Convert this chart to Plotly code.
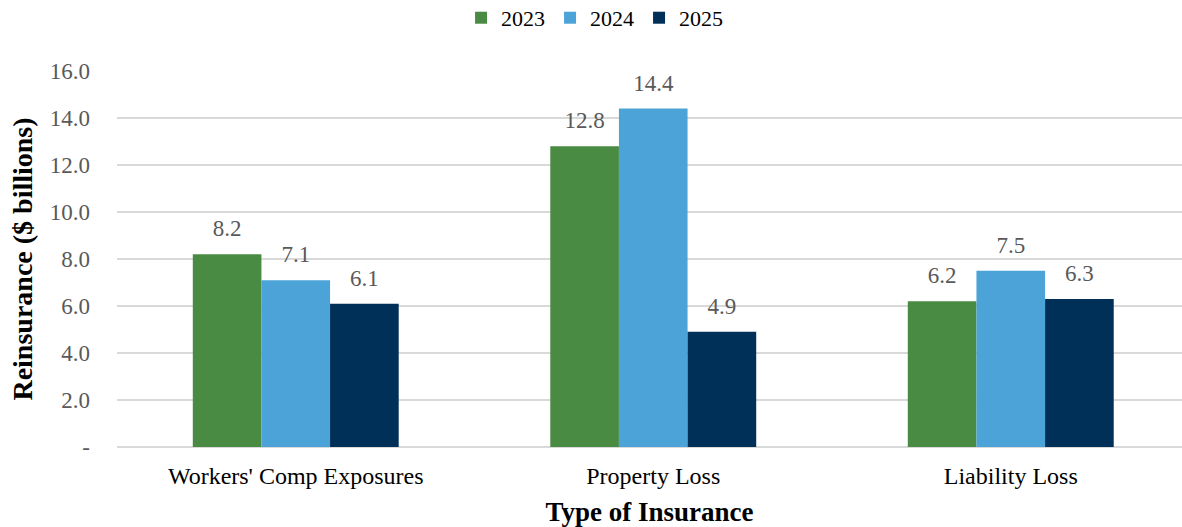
import plotly.graph_objects as go

categories = ["Workers' Comp Exposures", "Property Loss", "Liability Loss"]
years = ["2023", "2024", "2025"]
values_2023 = [8.2, 12.8, 6.2]
values_2024 = [7.1, 14.4, 7.5]
values_2025 = [6.1, 4.9, 6.3]
colors = ["#4a8b43", "#4ca3d7", "#003057"]

y_ticks = [0, 2, 4, 6, 8, 10, 12, 14, 16]
y_tick_text = ["-"] + [f"{v:.1f}" for v in y_ticks[1:]]

SERIF = "Liberation Serif"
series = list(zip(years, [values_2023, values_2024, values_2025], colors))

fig = go.Figure()
for name, vals, col in series:
    fig.add_trace(go.Bar(
        name=name, x=categories, y=vals, offsetgroup=name,
        marker=dict(color=col, line=dict(width=0)),
    ))

# value labels, grouped the same way as the bars, lifted a little above each bar
for name, vals, col in series:
    fig.add_trace(go.Scatter(
        x=categories, y=vals, offsetgroup=name, mode="markers+text",
        marker=dict(size=18, opacity=0, color=col),
        text=[f"{v:.1f}" for v in vals], textposition="top center",
        textfont=dict(family=SERIF, size=23, color="#595959"),
        showlegend=False, hoverinfo="skip", cliponaxis=False,
    ))

fig.update_layout(
    width=1182, height=527,
    barmode="group", bargap=0.424, bargroupgap=0,
    scattermode="group", scattergap=0.424,
    plot_bgcolor="white", paper_bgcolor="white",
    margin=dict(l=117, r=0, t=71, b=80),
    font=dict(family=SERIF, size=22, color="#000000"),
    legend=dict(orientation="h", xref="container", x=0.503, xanchor="center",
                yref="container", y=0.966, yanchor="middle",
                font=dict(size=22, color="#000000"),
                itemwidth=30, traceorder="normal"),
    xaxis=dict(
        title=dict(text="<b>Type of Insurance</b>", font=dict(size=27), standoff=14),
        tickfont=dict(size=24, color="#000000"), showgrid=False,
        showline=False, ticks="", range=[-0.5, 2.479],
        ticklabelstandoff=12, automargin=False,
    ),
    yaxis=dict(
        title=dict(text="<b>Reinsurance ($ billions)</b>", font=dict(size=28), standoff=8),
        range=[0, 16], tickvals=y_ticks, ticktext=y_tick_text,
        tickfont=dict(size=23, color="#595959"),
        showgrid=True, gridcolor="#d9d9d9", gridwidth=1.5,
        zeroline=True, zerolinecolor="#d9d9d9", zerolinewidth=1.5,
        ticklabelstandoff=26, automargin=False,
    ),
)

fig.write_html("out.html")
